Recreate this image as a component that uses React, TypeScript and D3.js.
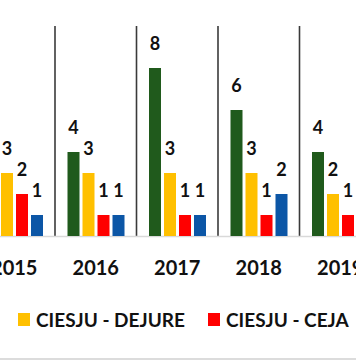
import React from "react";
import * as d3 from "d3";

const years = ["2015", "2016", "2017", "2018", "2019"];
const seriesKeys = ["green", "dejure", "ceja", "blue"];
const greenValues = [5, 4, 8, 6, 4];
const dejureValues = [3, 3, 3, 3, 2];
const cejaValues = [2, 1, 1, 1, 1];
const blueValues = [1, 1, 1, 2, 1];
const seriesColors = ["#205a1c", "#ffc000", "#ff0000", "#0c56a6"];
const legendNames = ["CIESJU - DEJURE", "CIESJU - CEJA"];
const legendColors = ["#ffc000", "#ff0000"];

const W = 356;
const H = 364;
const FONT = "Lato, 'Open Sans', sans-serif";

export default function App() {
  const values = [greenValues, dejureValues, cejaValues, blueValues];
  const x0 = d3.scaleBand<string>().domain(years).range([-26.5, 381]).padding(0);
  const x1 = d3
    .scaleBand<string>()
    .domain(seriesKeys)
    .range([12.5, 69.5])
    .paddingInner(0.2)
    .paddingOuter(0);
  const y = d3.scaleLinear().domain([0, 8]).range([236, 68]);
  const legendX = [18, 208];

  return (
    <svg
      width={W}
      height={H}
      style={{ position: "absolute", left: 0, top: 0, background: "#fff" }}
      fontFamily={FONT}
    >
      <rect x={0} y={0} width={W} height={H} fill="#fff" />
      {years.slice(1).map((yr) => (
        <line
          key={"sep" + yr}
          x1={x0(yr)!}
          x2={x0(yr)!}
          y1={26}
          y2={236}
          stroke="#3a3a3a"
          strokeWidth={1.6}
        />
      ))}
      <line x1={0} x2={W} y1={236.5} y2={236.5} stroke="#d9d9d9" strokeWidth={1.5} />
      {years.map((yr, i) => (
        <g key={yr} transform={`translate(${x0(yr)},0)`}>
          {seriesKeys.map((k, s) => {
            const v = values[s][i];
            const bx = x1(k)!;
            const absLeft = x0(yr)! + bx;
            const absRight = absLeft + x1.bandwidth();
            const visible = absRight > 0 && absLeft < W;
            return (
              <g key={k}>
                <rect
                  x={bx}
                  y={y(v)}
                  width={x1.bandwidth()}
                  height={y(0) - y(v)}
                  fill={seriesColors[s]}
                />
                {visible && (
                  <text
                    x={bx + x1.bandwidth() / 2}
                    y={y(v) - 18}
                    textAnchor="middle"
                    fontSize={18}
                    fontWeight="bold"
                    fill="#111"
                  >
                    {v}
                  </text>
                )}
              </g>
            );
          })}
          <text
            x={x0.bandwidth() / 2}
            y={275}
            textAnchor="middle"
            fontSize={20}
            fontWeight="bold"
            fill="#111"
          >
            {yr}
          </text>
        </g>
      ))}
      {legendNames.map((n, i) => (
        <g key={n} transform={`translate(${legendX[i]},0)`}>
          <rect x={0} y={313} width={12} height={13} fill={legendColors[i]} />
          <text x={18} y={327} fontSize={19} fontWeight="bold" fill="#111">
            {n}
          </text>
        </g>
      ))}
      <line x1={0} x2={W} y1={359} y2={359} stroke="#dcdcdc" strokeWidth={2} />
    </svg>
  );
}
